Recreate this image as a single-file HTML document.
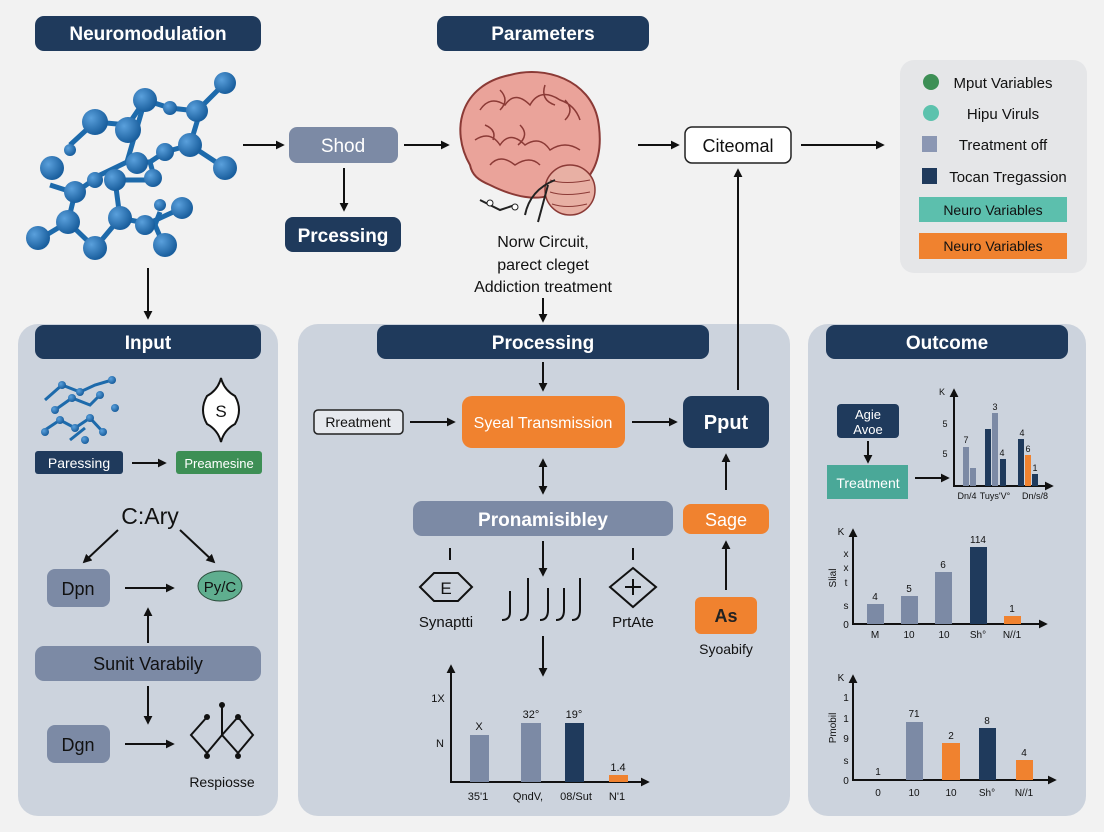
<!DOCTYPE html>
<html><head><meta charset="utf-8"><style>
html,body{margin:0;padding:0;background:#f2f2f2;}
svg{display:block;font-family:"Liberation Sans",sans-serif;}
</style></head><body>
<svg width="1104" height="832" viewBox="0 0 1104 832" xmlns="http://www.w3.org/2000/svg">
<defs>
<marker id="a" viewBox="0 0 10 10" refX="8" refY="5" markerWidth="4.5" markerHeight="4.5" orient="auto-start-reverse"><path d="M0,0 L10,5 L0,10 z" fill="#111"/></marker>
<radialGradient id="ball" cx="35%" cy="35%" r="65%"><stop offset="0" stop-color="#5aa0dc"/><stop offset="1" stop-color="#1a5f9e"/></radialGradient>
</defs>
<rect width="1104" height="832" fill="#f2f2f2"/>
<g stroke="#111" stroke-width="2" fill="none" marker-end="url(#a)">
<line x1="243" y1="145" x2="283" y2="145"/><line x1="344" y1="168" x2="344" y2="210"/>
<line x1="404" y1="145" x2="448" y2="145"/><line x1="543" y1="298" x2="543" y2="321"/>
<line x1="638" y1="145" x2="678" y2="145"/><line x1="801" y1="145" x2="883" y2="145"/>
<line x1="148" y1="268" x2="148" y2="318"/>
</g>
<!-- panels -->
<rect x="18" y="324" width="260" height="492" rx="20" fill="#ccd3dd"/>
<rect x="298" y="324" width="492" height="492" rx="20" fill="#ccd3dd"/>
<rect x="808" y="324" width="278" height="492" rx="20" fill="#ccd3dd"/>
<rect x="900" y="60" width="187" height="213" rx="14" fill="#e5e6e8"/>
<g stroke="#111" stroke-width="2" fill="none" marker-end="url(#a)">
<line x1="738" y1="390" x2="738" y2="170"/>
</g>
<!-- headers -->
<g fill="#1f3a5c">
<rect x="35" y="16" width="226" height="35" rx="9"/><rect x="437" y="16" width="212" height="35" rx="9"/>
<rect x="35" y="325" width="226" height="34" rx="9"/><rect x="377" y="325" width="332" height="34" rx="9"/><rect x="826" y="325" width="242" height="34" rx="9"/>
<rect x="285" y="217" width="116" height="35" rx="8"/>
</g>
<g fill="#fff" font-size="19" font-weight="bold" text-anchor="middle">
<text x="148" y="40">Neuromodulation</text><text x="543" y="40">Parameters</text>
<text x="148" y="349">Input</text><text x="543" y="349">Processing</text><text x="947" y="349">Outcome</text>
<text x="343" y="242">Prcessing</text>
</g>
<rect x="289" y="127" width="109" height="36" rx="8" fill="#7c8aa5"/>
<text x="343" y="152" fill="#fff" font-size="19" text-anchor="middle">Shod</text>
<rect x="685" y="127" width="106" height="36" rx="7" fill="#fff" stroke="#222" stroke-width="1.5"/>
<text x="738" y="152" fill="#111" font-size="18" text-anchor="middle">Citeomal</text>
<!-- molecule -->
<g stroke="#1d6aab" stroke-width="5" fill="none">
<polyline points="225,83 197,111 170,108 145,100 128,125 95,122 70,145"/>
<polyline points="145,100 127,162 100,175 75,193 68,222 95,248 120,218 155,225 165,248"/>
<polyline points="127,162 150,162 165,152 190,145 200,112"/>
<polyline points="190,145 225,168"/><polyline points="150,162 155,180 115,180 120,218"/>
<polyline points="50,185 75,193"/><polyline points="68,222 38,240"/><polyline points="145,225 182,208"/><polyline points="155,225 160,212"/>
</g>
<g fill="url(#ball)">
<circle cx="225" cy="83" r="11"/><circle cx="197" cy="111" r="11"/><circle cx="170" cy="108" r="7"/><circle cx="145" cy="100" r="12"/>
<circle cx="95" cy="122" r="13"/><circle cx="70" cy="150" r="6"/><circle cx="128" cy="130" r="13"/><circle cx="190" cy="145" r="12"/>
<circle cx="225" cy="168" r="12"/><circle cx="165" cy="152" r="9"/><circle cx="137" cy="163" r="11"/><circle cx="153" cy="178" r="9"/>
<circle cx="52" cy="168" r="12"/><circle cx="75" cy="192" r="11"/><circle cx="95" cy="180" r="8"/><circle cx="115" cy="180" r="11"/>
<circle cx="68" cy="222" r="12"/><circle cx="38" cy="238" r="12"/><circle cx="95" cy="248" r="12"/><circle cx="120" cy="218" r="12"/>
<circle cx="145" cy="225" r="10"/><circle cx="165" cy="245" r="12"/><circle cx="160" cy="205" r="6"/><circle cx="182" cy="208" r="11"/>
</g>
<!-- brain -->
<g>
<path d="M470,165 C450,130 460,85 510,75 C545,65 590,80 598,120 C605,160 590,190 560,190 C540,205 510,195 490,185 C478,180 472,175 470,165 Z" fill="#eaa39a" stroke="#8b3a36" stroke-width="2"/>
<path d="M480,110 q10,-15 25,-5 q10,-15 25,0 q10,-18 30,-5 q15,5 20,20 M475,140 q15,-10 25,5 q10,-15 25,0 q15,-10 25,5 q15,-10 30,0 M490,165 q10,-12 25,0 q15,-10 25,0 M500,90 q10,10 0,20 M545,85 q-5,15 10,20 M520,125 q10,10 -2,20 M565,100 q10,10 0,20 M485,125 q12,5 8,15" fill="none" stroke="#8b3a36" stroke-width="1.5"/>
<ellipse cx="570" cy="190" rx="25" ry="25" fill="#e8b0a4" stroke="#8b3a36" stroke-width="1.5"/>
<path d="M550,180 q15,5 40,0 M550,192 q15,5 40,0 M552,204 q15,5 35,0" fill="none" stroke="#8b3a36" stroke-width="1"/>
<path d="M548,185 L538,222 M555,180 q-25,10 -30,35 M480,200 l20,10 l15,-5" fill="none" stroke="#222" stroke-width="2"/>
<circle cx="515" cy="207" r="3" fill="#fff" stroke="#222"/><circle cx="490" cy="203" r="3" fill="#fff" stroke="#222"/>
</g>
<g font-size="16" fill="#111" text-anchor="middle">
<text x="543" y="247">Norw Circuit,</text><text x="543" y="270">parect cleget</text><text x="543" y="292">Addiction treatment</text>
</g>
<!-- legend -->
<circle cx="931" cy="82" r="8" fill="#3d8f55"/><circle cx="931" cy="113" r="8" fill="#5cc2ad"/>
<rect x="922" y="136" width="15" height="16" fill="#8b97b3"/><rect x="922" y="168" width="15" height="16" fill="#1f3a5c"/>
<rect x="919" y="197" width="148" height="25" fill="#5cbfad"/><rect x="919" y="233" width="148" height="26" fill="#f0822f"/>
<g font-size="15" fill="#111" text-anchor="middle">
<text x="1003" y="88">Mput Variables</text><text x="1003" y="119">Hipu Viruls</text><text x="1003" y="150">Treatment off</text><text x="1008" y="182">Tocan Tregassion</text>
<text x="993" y="215" font-size="14">Neuro Variables</text><text x="993" y="251" font-size="14">Neuro Variables</text>
</g>
<!-- INPUT -->
<g stroke="#1d6aab" stroke-width="3" fill="none"><polyline points="45,400 62,385 80,392 95,385 112,380"/><polyline points="55,410 72,398 90,405 100,395"/><polyline points="45,430 60,420 75,428 90,418 103,432"/><polyline points="70,440 85,428"/></g>
<g fill="url(#ball)"><circle cx="62" cy="385" r="4"/><circle cx="80" cy="392" r="4"/><circle cx="112" cy="380" r="4"/><circle cx="55" cy="410" r="4"/><circle cx="72" cy="398" r="4"/><circle cx="100" cy="395" r="4"/><circle cx="45" cy="432" r="4"/><circle cx="60" cy="420" r="4"/><circle cx="75" cy="428" r="4"/><circle cx="90" cy="418" r="4"/><circle cx="103" cy="432" r="4"/><circle cx="115" cy="408" r="4"/><circle cx="85" cy="440" r="4"/></g>
<path d="M221,378 q3,12 14,18 q8,14 0,28 q-11,6 -14,18 q-3,-12 -14,-18 q-8,-14 0,-28 q11,-6 14,-18 z" fill="#fff" stroke="#111" stroke-width="2"/>
<text x="221" y="417" font-size="17" text-anchor="middle" fill="#111">S</text>
<rect x="35" y="451" width="88" height="23" rx="3" fill="#1f3a5c"/><text x="79" y="468" font-size="14" fill="#fff" text-anchor="middle">Paressing</text>
<rect x="176" y="451" width="86" height="23" rx="3" fill="#3d8f55"/><text x="219" y="468" font-size="13" fill="#fff" text-anchor="middle">Preamesine</text>
<text x="150" y="524" font-size="23" text-anchor="middle" fill="#111">C:Ary</text>
<rect x="47" y="569" width="63" height="38" rx="8" fill="#7c8aa5"/><text x="78" y="595" font-size="18" text-anchor="middle" fill="#111">Dpn</text>
<ellipse cx="220" cy="586" rx="22" ry="15" fill="#5fae8f" stroke="#2a4a3a"/><text x="220" y="592" font-size="15" text-anchor="middle" fill="#111">Py/C</text>
<rect x="35" y="646" width="226" height="35" rx="9" fill="#7c8aa5"/><text x="148" y="670" font-size="18" text-anchor="middle" fill="#111">Sunit Varabily</text>
<rect x="47" y="725" width="63" height="38" rx="8" fill="#7c8aa5"/><text x="78" y="751" font-size="18" text-anchor="middle" fill="#111">Dgn</text>
<g stroke="#111" stroke-width="2" fill="none">
<path d="M222,705 V735 M207,717 L191,735 L207,753 L222,735 L238,753 L253,735 L238,717 L222,735"/>
</g>
<g fill="#111"><circle cx="222" cy="705" r="3"/><circle cx="207" cy="717" r="3"/><circle cx="238" cy="717" r="3"/><circle cx="207" cy="756" r="3"/><circle cx="238" cy="756" r="3"/></g>
<text x="222" y="787" font-size="14" text-anchor="middle" fill="#111">Respiosse</text>
<g stroke="#111" stroke-width="2" fill="none" marker-end="url(#a)">
<line x1="132" y1="463" x2="165" y2="463"/><line x1="118" y1="530" x2="84" y2="562"/><line x1="180" y1="530" x2="214" y2="562"/>
<line x1="125" y1="588" x2="173" y2="588"/><line x1="148" y1="643" x2="148" y2="609"/><line x1="148" y1="686" x2="148" y2="723"/>
<line x1="125" y1="744" x2="173" y2="744"/>
</g>
<!-- PROCESSING -->
<rect x="314" y="410" width="89" height="24" rx="4" fill="#e6e9ee" stroke="#222" stroke-width="1.5"/><text x="358" y="427" font-size="14" text-anchor="middle" fill="#111">Rreatment</text>
<rect x="462" y="396" width="163" height="52" rx="10" fill="#f0822f"/><text x="543" y="428" font-size="16" text-anchor="middle" fill="#fff">Syeal Transmission</text>
<rect x="683" y="396" width="86" height="52" rx="9" fill="#1f3a5c"/><text x="726" y="429" font-size="20" font-weight="bold" text-anchor="middle" fill="#fff">Pput</text>
<rect x="413" y="501" width="260" height="35" rx="9" fill="#7c8aa5"/><text x="543" y="526" font-size="19" font-weight="bold" text-anchor="middle" fill="#fff">Pronamisibley</text>
<rect x="683" y="504" width="86" height="30" rx="8" fill="#f0822f"/><text x="726" y="526" font-size="18" text-anchor="middle" fill="#fff">Sage</text>
<rect x="695" y="597" width="62" height="37" rx="6" fill="#f0822f"/><text x="726" y="622" font-size="18" font-weight="bold" text-anchor="middle" fill="#222">As</text>
<text x="726" y="654" font-size="14" text-anchor="middle" fill="#111">Syoabify</text>
<g stroke="#111" stroke-width="2" fill="none">
<line x1="450" y1="548" x2="450" y2="560"/><line x1="633" y1="548" x2="633" y2="560"/>
<path d="M420,587 L434,573 H458 L472,587 L458,601 H434 Z"/><path d="M633,568 L656,587 L633,607 L610,587 Z"/>
<path d="M625,587 H641 M633,579 V595"/>
<path d="M502,620 q8,0 8,-8 V591 M520,620 q8,0 8,-10 V578 M540,620 q8,0 8,-10 V588 M556,620 q8,0 8,-10 V588 M572,620 q8,0 8,-10 V578"/>
</g>
<text x="446" y="594" font-size="17" text-anchor="middle" fill="#111">E</text>
<text x="446" y="627" font-size="15" text-anchor="middle" fill="#111">Synaptti</text>
<text x="633" y="627" font-size="15" text-anchor="middle" fill="#111">PrtAte</text>
<g stroke="#111" stroke-width="2" fill="none" marker-end="url(#a)">
<line x1="543" y1="362" x2="543" y2="390"/><line x1="410" y1="422" x2="454" y2="422"/><line x1="632" y1="422" x2="676" y2="422"/>
<line x1="543" y1="460" x2="543" y2="493" marker-start="url(#a)"/><line x1="726" y1="490" x2="726" y2="455"/><line x1="726" y1="590" x2="726" y2="542"/>
<line x1="543" y1="541" x2="543" y2="575"/><line x1="543" y1="636" x2="543" y2="675"/>
<line x1="451" y1="782" x2="451" y2="666"/><line x1="450" y1="782" x2="648" y2="782"/>
</g>
<rect x="470" y="735" width="19" height="47" fill="#7c8aa5"/><rect x="521" y="723" width="20" height="59" fill="#7c8aa5"/><rect x="565" y="723" width="19" height="59" fill="#1f3a5c"/><rect x="609" y="775" width="19" height="7" fill="#f0822f"/>
<g font-size="11" fill="#111" text-anchor="middle">
<text x="438" y="702">1X</text><text x="440" y="747">N</text><text x="479" y="730">X</text><text x="531" y="718">32°</text><text x="574" y="718">19°</text><text x="618" y="771">1.4</text>
<text x="478" y="800">35'1</text><text x="528" y="800">QndV,</text><text x="576" y="800">08/Sut</text><text x="617" y="800">N'1</text>
</g>
<!-- OUTCOME -->
<rect x="837" y="404" width="62" height="34" rx="4" fill="#1f3a5c"/><text x="868" y="419" font-size="13" text-anchor="middle" fill="#fff">Agie</text><text x="868" y="434" font-size="13" text-anchor="middle" fill="#fff">Avoe</text>
<rect x="827" y="465" width="81" height="34" fill="#4aa898"/><text x="868" y="488" font-size="14" text-anchor="middle" fill="#fff">Treatment</text>
<g stroke="#111" stroke-width="2" fill="none" marker-end="url(#a)">
<line x1="868" y1="441" x2="868" y2="462"/><line x1="915" y1="478" x2="948" y2="478"/>
<line x1="954" y1="487" x2="954" y2="390"/><line x1="953" y1="486" x2="1052" y2="486"/>
<line x1="853" y1="624" x2="853" y2="530"/><line x1="852" y1="624" x2="1046" y2="624"/>
<line x1="853" y1="781" x2="853" y2="676"/><line x1="852" y1="780" x2="1055" y2="780"/>
</g>
<g>
<rect x="963" y="447" width="6" height="39" fill="#7c8aa5"/><rect x="970" y="468" width="6" height="18" fill="#7c8aa5"/>
<rect x="985" y="429" width="6" height="57" fill="#1f3a5c"/><rect x="992" y="413" width="6" height="73" fill="#7c8aa5"/><rect x="1000" y="459" width="6" height="27" fill="#1f3a5c"/>
<rect x="1018" y="439" width="6" height="47" fill="#1f3a5c"/><rect x="1025" y="455" width="6" height="31" fill="#f0822f"/><rect x="1032" y="474" width="6" height="12" fill="#1f3a5c"/>
<rect x="867" y="604" width="17" height="20" fill="#7c8aa5"/><rect x="901" y="596" width="17" height="28" fill="#7c8aa5"/><rect x="935" y="572" width="17" height="52" fill="#7c8aa5"/>
<rect x="970" y="547" width="17" height="77" fill="#1f3a5c"/><rect x="1004" y="616" width="17" height="8" fill="#f0822f"/>
<rect x="906" y="722" width="17" height="58" fill="#7c8aa5"/><rect x="942" y="743" width="18" height="37" fill="#f0822f"/><rect x="979" y="728" width="17" height="52" fill="#1f3a5c"/><rect x="1016" y="760" width="17" height="20" fill="#f0822f"/>
</g>
<g font-size="9" fill="#111" text-anchor="middle">
<text x="942" y="395">K</text><text x="945" y="427">5</text><text x="945" y="457">5</text><text x="966" y="443">7</text><text x="995" y="410">3</text><text x="1002" y="456">4</text><text x="1022" y="436">4</text><text x="1028" y="452">6</text><text x="1035" y="471">1</text>
<text x="967" y="499">Dn/4</text><text x="995" y="499">Tuys'V°</text><text x="1035" y="499">Dn/s/8</text>
</g>
<g font-size="10" fill="#111" text-anchor="middle">
<text x="841" y="535">K</text><text x="846" y="557">x</text><text x="846" y="571">x</text><text x="846" y="586">t</text><text x="846" y="609">s</text><text x="846" y="628">0</text>
<text x="875" y="600">4</text><text x="909" y="592">5</text><text x="943" y="568">6</text><text x="978" y="543">114</text><text x="1012" y="612">1</text>
<text x="875" y="638">M</text><text x="909" y="638">10</text><text x="944" y="638">10</text><text x="978" y="638">Sh°</text><text x="1012" y="638">N//1</text>
<text x="841" y="681">K</text><text x="846" y="701">1</text><text x="846" y="722">1</text><text x="846" y="742">9</text><text x="846" y="764">s</text><text x="846" y="784">0</text>
<text x="878" y="775">1</text><text x="914" y="717">71</text><text x="951" y="739">2</text><text x="987" y="724">8</text><text x="1024" y="756">4</text>
<text x="878" y="796">0</text><text x="914" y="796">10</text><text x="951" y="796">10</text><text x="987" y="796">Sh°</text><text x="1024" y="796">N//1</text>
<text transform="translate(836,578) rotate(-90)">Slial</text><text transform="translate(836,728) rotate(-90)">Pmobil</text>
</g>
</svg>
</body></html>
